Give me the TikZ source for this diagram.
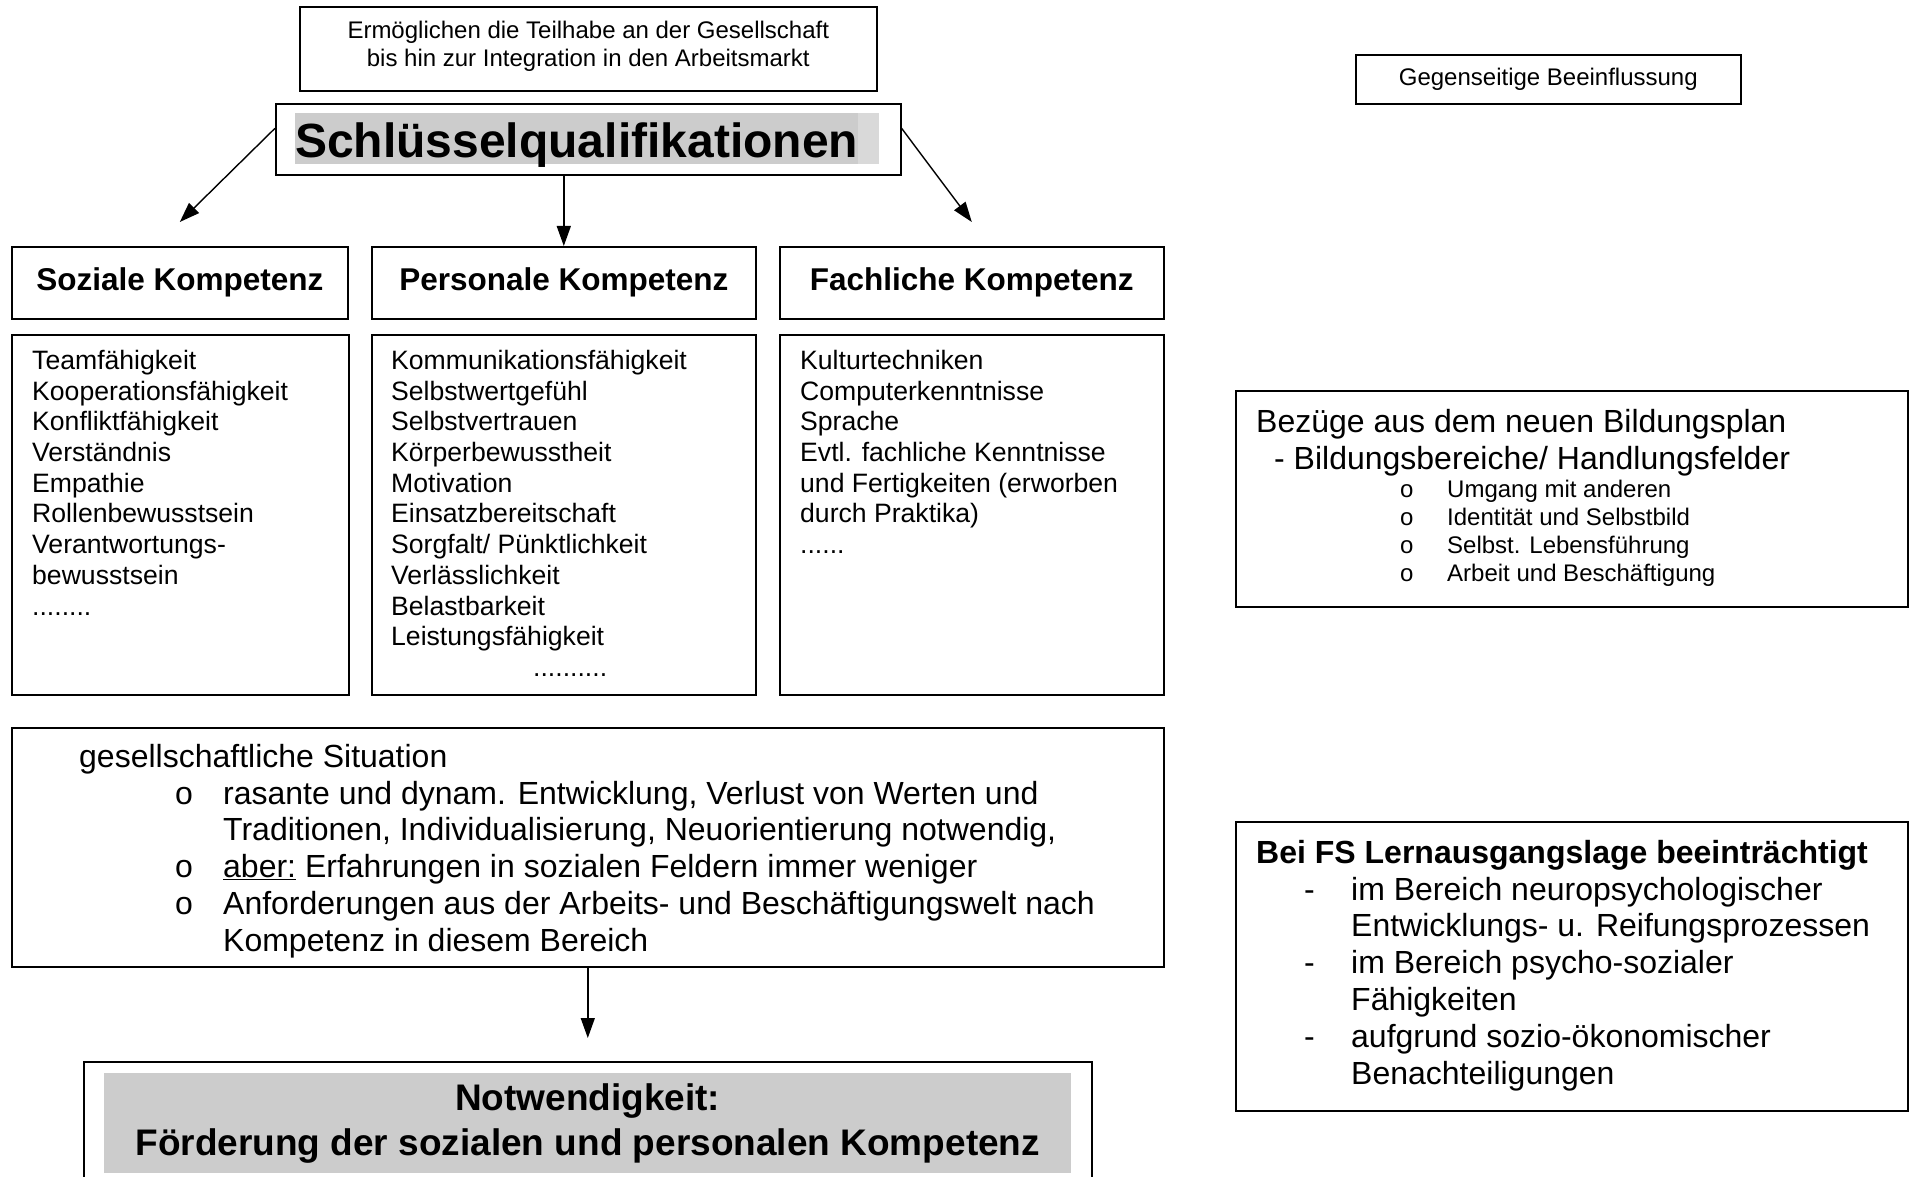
\documentclass[tikz,border=0pt]{standalone}
\usepackage{fontspec}
\setmainfont{Liberation Sans}
\usetikzlibrary{arrows.meta}
\definecolor{hl}{gray}{0.8}
\definecolor{hllight}{gray}{0.85}
\newcommand\sqsmall{\fontsize{24}{28}\selectfont}
\newcommand\sqlist{\fontsize{26.6}{30.7}\selectfont}
\newcommand\sqmid{\fontsize{32}{36.8}\selectfont}
\newcommand\sqhead{\fontsize{31.5}{36}\selectfont\bfseries}
\newcommand\sqtitle{\fontsize{48}{55}\selectfont\bfseries}
\newcommand\sqbottom{\fontsize{37}{45}\selectfont\bfseries}

\begin{document}
\begin{tikzpicture} [x=1pt, y=-1pt,
        box/.style={draw, line width=1.6pt, anchor=north west, inner sep=0pt},
        txt/.style={anchor=north west, inner sep=0pt, align=left}]
            \clip (0,0) rectangle (1912,1177);

            \node[box, minimum width=577pt, minimum height=84pt, align=center, text depth=9pt, font=\sqsmall] (ziel) at (299,6)
                {Ermöglichen die Teilhabe an der Gesellschaft\\bis hin zur Integration in den Arbeitsmarkt};
            \node[box, minimum width=625pt, minimum height=71pt] (sq) at (275,103) {};
            \node[fill=hl, anchor=north west, inner sep=0pt, text height=44.5pt, text depth=6.5pt, text width=563pt, font=\sqtitle] (sqt) at (295,113)
                {Schlüsselqualifikationen};
            \fill[hllight] (sqt.north east) rectangle ++(21,51);
            \node[box, minimum width=385pt, minimum height=49pt, font=\sqsmall] (geg) at (1355,54) {Gegenseitige Beeinflussung};

            \node[box, minimum width=336pt, minimum height=72pt, font=\sqhead] (soz) at (11,246)  {Soziale Kompetenz};
            \node[box, minimum width=384pt, minimum height=72pt, font=\sqhead] (pers) at (371,246) {Personale Kompetenz};
            \node[box, minimum width=384pt, minimum height=72pt, font=\sqhead] (fach) at (779,246) {Fachliche Kompetenz};

            \node[box, minimum width=337pt, minimum height=360pt] (sozl) at (11,334)  {};
            \node[box, minimum width=384pt, minimum height=360pt] (persl) at (371,334) {};
            \node[box, minimum width=384pt, minimum height=360pt] (fachl) at (779,334) {};
            \node[txt, font=\sqlist] (sozt) at (32,350) {Teamfähigkeit\\Kooperationsfähigkeit\\Konfliktfähigkeit\\Verständnis\\Empathie\\Rollenbewusstsein\\Verantwortungs-\\bewusstsein\\........};
            \node[txt, font=\sqlist] (perst) at (391,350) {Kommunikationsfähigkeit\\Selbstwertgefühl\\Selbstvertrauen\\Körperbewusstheit\\Motivation\\Einsatzbereitschaft\\Sorgfalt/ Pünktlichkeit\\Verlässlichkeit\\Belastbarkeit\\Leistungsfähigkeit\\\hspace*{142pt}..........};
            \node[txt, font=\sqlist] (facht) at (800,350) {Kulturtechniken\\Computerkenntnisse\\Sprache\\Evtl. fachliche Kenntnisse\\und Fertigkeiten (erworben\\durch Praktika)\\......};

            \node[box, minimum width=672pt, minimum height=216pt] (bez) at (1235,390) {};
            \node[txt, font=\sqmid] (bezt) at (1256,409) {Bezüge aus dem neuen Bildungsplan\\\hspace*{18pt}- Bildungsbereiche/ Handlungsfelder};
            \node[txt, font=\sqsmall] (bezl) at (1400,480) {\makebox[47pt][l]{o}Umgang mit anderen\\\makebox[47pt][l]{o}Identität und Selbstbild\\\makebox[47pt][l]{o}Selbst. Lebensführung\\\makebox[47pt][l]{o}Arbeit und Beschäftigung};

            \node[box, minimum width=1152pt, minimum height=239pt] (ges) at (11,727) {};
            \node[txt, font=\sqmid] (gest) at (79,744) {gesellschaftliche Situation\\
                \hspace*{96pt}\makebox[48pt][l]{o}rasante und dynam. Entwicklung, Verlust von Werten und\\
                \hspace*{144pt}Traditionen, Individualisierung, Neuorientierung notwendig,\\
                \hspace*{96pt}\makebox[48pt][l]{o}\underline{aber:} Erfahrungen in sozialen Feldern immer weniger\\
                \hspace*{96pt}\makebox[48pt][l]{o}Anforderungen aus der Arbeits- und Beschäftigungswelt nach\\
                \hspace*{144pt}Kompetenz in diesem Bereich};

            \node[box, minimum width=672pt, minimum height=289pt] (fs) at (1235,821) {};
            \node[txt, font=\sqmid] (fst) at (1256,840) {\textbf{Bei FS Lernausgangslage beeinträchtigt}\\
                \hspace*{48pt}\makebox[47pt][l]{-}im Bereich neuropsychologischer\\
                \hspace*{95pt}Entwicklungs- u. Reifungsprozessen\\
                \hspace*{48pt}\makebox[47pt][l]{-}im Bereich psycho-sozialer\\
                \hspace*{95pt}Fähigkeiten\\
                \hspace*{48pt}\makebox[47pt][l]{-}aufgrund sozio-ökonomischer\\
                \hspace*{95pt}Benachteiligungen};

            \node[box, minimum width=1008pt, minimum height=160pt] (not) at (83,1061) {};
            \node[fill=hl, anchor=north west, inner sep=0pt, minimum width=967pt, minimum height=100pt, align=center, font=\sqbottom] (nott) at (104,1073)
                {Notwendigkeit:\\Förderung der sozialen und personalen Kompetenz};

            \begin{scope}[->, >={Triangle[length=20pt, width=14pt]}, line width=1.4pt]
                \draw ([yshift=11pt]sq.west) -- ([yshift=24pt]soz.north);
                \draw (sq.south -| pers.north) -- (pers.north);
                \draw ([yshift=11pt]sq.east) -- ([yshift=24pt]fach.north);
                \draw[shorten >=23pt] (ges) -- (not);
            \end{scope}
        \end{tikzpicture}
\end{document}
